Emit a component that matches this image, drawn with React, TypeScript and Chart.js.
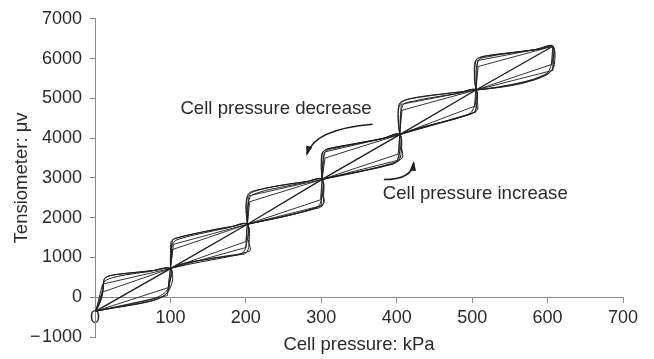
import { useEffect, useRef } from "react";
import { Chart, registerables } from "chart.js";

Chart.register(...registerables);

type Pt = [number, number];

const INK = "#1e1e1e";
const AXIS = "#8a8a8a";
const TEXT = "#2a2a2a";
const FONT = "'Liberation Sans', Arial, Helvetica, sans-serif";

// Axis ranges and ticks
const xTicks = [0, 100, 200, 300, 400, 500, 600, 700];
const yTicks = [-1000, 0, 1000, 2000, 3000, 4000, 5000, 6000, 7000];

// Nodes reached at each pressure stage (kPa, μv)
const stageNodes: Pt[] = [
  [1, -350], [100, 720], [202, 1835], [301, 2962], [404, 4090], [505, 5210], [607, 6310],
];

// Stage 0 → 100 kPa
const loop1A: Pt[] = [[1, -350], [20, -285], [40, -225], [60, -160], [78, -80], [90, 20], [97, 150], [99, 400], [100, 720], [80, 675], [60, 635], [38, 592], [20, 545], [13, 480], [11, 330], [10, 80], [7, -120], [1, -350]];
const loop1B: Pt[] = [[1, -350], [25, -265], [50, -185], [72, -100], [88, 0], [96, 120], [101, 300], [103, 500], [100, 720], [76, 668], [52, 622], [30, 575], [17, 520], [12, 440], [11, 200], [6, -160], [1, -350]];
const loop1C: Pt[] = [[1, -350], [30, -240], [58, -130], [80, -20], [93, 120], [98, 280], [100, 720], [70, 640], [40, 560], [20, 470], [12, 380], [9, 100], [1, -350]];
const loop1Q1: Pt[] = [[1, -350], [97, 240], [100, 720], [10, 330], [1, -350]];
const loop1Q2: Pt[] = [[1, -350], [96, 40], [100, 720], [10, 130], [1, -350]];

// Stage 100 → 200 kPa
const loop2A: Pt[] = [[100, 725], [115, 840], [135, 912], [155, 980], [175, 1040], [192, 1090], [201, 1135], [206, 1190], [203, 1450], [202, 1835], [185, 1788], [165, 1725], [140, 1630], [118, 1535], [106, 1470], [101, 1400], [100, 1100], [100, 725]];
const loop2B: Pt[] = [[100, 725], [120, 855], [145, 940], [170, 1015], [190, 1065], [200, 1110], [204, 1300], [202, 1835], [180, 1772], [152, 1675], [126, 1575], [110, 1500], [103, 1440], [101, 1000], [100, 725]];
const loop2C: Pt[] = [[100, 725], [125, 830], [155, 940], [180, 1030], [196, 1120], [201, 1350], [202, 1835], [175, 1740], [145, 1620], [118, 1500], [104, 1380], [101, 1050], [100, 725]];
const loop2Q1: Pt[] = [[100, 725], [200, 1250], [202, 1835], [104, 1330], [100, 725]];
const loop2Q2: Pt[] = [[100, 725], [200, 1400], [202, 1835], [103, 1200], [100, 725]];

// Stage 200 → 300 kPa
const loop3A: Pt[] = [[202, 1835], [221, 1912], [240, 1985], [258, 2060], [275, 2150], [290, 2235], [300, 2310], [304, 2400], [302, 2600], [301, 2962], [283, 2915], [265, 2868], [245, 2810], [228, 2745], [212, 2665], [204, 2585], [201, 2480], [200, 2200], [202, 1835]];
const loop3B: Pt[] = [[202, 1835], [225, 1925], [250, 2025], [272, 2125], [290, 2215], [301, 2290], [303, 2500], [301, 2962], [280, 2905], [258, 2845], [235, 2775], [216, 2700], [205, 2630], [202, 2530], [201, 2100], [202, 1835]];
const loop3C: Pt[] = [[202, 1835], [230, 1950], [260, 2080], [285, 2200], [298, 2330], [301, 2962], [275, 2870], [245, 2760], [220, 2650], [205, 2500], [202, 1835]];
const loop3Q1: Pt[] = [[202, 1835], [299, 2450], [301, 2962], [205, 2400], [202, 1835]];
const loop3Q2: Pt[] = [[202, 1835], [300, 2300], [301, 2962], [204, 2550], [202, 1835]];

// Stage 300 → 400 kPa
const loop4A: Pt[] = [[301, 2962], [318, 3040], [335, 3100], [355, 3180], [375, 3270], [392, 3360], [404, 3450], [408, 3550], [406, 3800], [404, 4090], [388, 4015], [371, 3950], [352, 3885], [334, 3820], [318, 3765], [306, 3705], [301, 3620], [300, 3300], [301, 2962]];
const loop4B: Pt[] = [[301, 2962], [325, 3065], [350, 3160], [372, 3250], [390, 3330], [402, 3420], [406, 3650], [404, 4090], [382, 3995], [358, 3910], [335, 3830], [315, 3760], [304, 3690], [301, 3550], [300, 3200], [301, 2962]];
const loop4C: Pt[] = [[301, 2962], [330, 3070], [360, 3190], [385, 3300], [400, 3420], [404, 4090], [378, 3970], [348, 3860], [322, 3760], [305, 3640], [301, 2962]];
const loop4Q1: Pt[] = [[301, 2962], [402, 3600], [404, 4090], [305, 3500], [301, 2962]];
const loop4Q2: Pt[] = [[301, 2962], [403, 3450], [404, 4090], [304, 3650], [301, 2962]];

// Stage 400 → 500 kPa
const loop5A: Pt[] = [[404, 4090], [420, 4200], [435, 4285], [452, 4365], [470, 4450], [487, 4540], [500, 4620], [507, 4720], [507, 4900], [505, 5210], [490, 5175], [476, 5148], [458, 5105], [440, 5065], [422, 5010], [409, 4945], [403, 4850], [402, 4500], [404, 4090]];
const loop5B: Pt[] = [[404, 4090], [425, 4225], [450, 4350], [472, 4460], [490, 4560], [503, 4660], [506, 4850], [505, 5210], [485, 5160], [462, 5110], [440, 5055], [420, 4995], [408, 4920], [403, 4780], [402, 4400], [404, 4090]];
const loop5C: Pt[] = [[404, 4090], [430, 4230], [460, 4390], [485, 4530], [500, 4680], [505, 5210], [480, 5120], [450, 5030], [425, 4940], [408, 4820], [404, 4090]];
const loop5Q1: Pt[] = [[404, 4090], [503, 4800], [505, 5210], [407, 4700], [404, 4090]];
const loop5Q2: Pt[] = [[404, 4090], [504, 4650], [505, 5210], [406, 4850], [404, 4090]];

// Stage 500 → 600 kPa
const loop6A: Pt[] = [[505, 5210], [520, 5240], [535, 5280], [552, 5335], [570, 5410], [586, 5500], [598, 5600], [606, 5720], [608, 5900], [607, 6310], [592, 6250], [576, 6205], [558, 6160], [540, 6120], [522, 6075], [510, 6020], [504, 5930], [503, 5600], [505, 5210]];
const loop6B: Pt[] = [[505, 5210], [528, 5255], [552, 5320], [575, 5420], [592, 5530], [603, 5650], [609, 5850], [607, 6310], [588, 6235], [565, 6180], [542, 6130], [522, 6080], [510, 6030], [505, 5950], [503, 5500], [505, 5210]];
const loop6C: Pt[] = [[505, 5210], [535, 5290], [565, 5400], [588, 5530], [602, 5700], [607, 6310], [582, 6220], [552, 6140], [525, 6060], [508, 5940], [505, 5210]];
const loop6Q1: Pt[] = [[505, 5210], [605, 5850], [607, 6310], [508, 5800], [505, 5210]];
const loop6Q2: Pt[] = [[505, 5210], [606, 5700], [607, 6310], [507, 5950], [505, 5210]];

const smoothLoops: Pt[][] = [
  loop1A, loop1B, loop1C, loop2A, loop2B, loop2C, loop3A, loop3B, loop3C,
  loop4A, loop4B, loop4C, loop5A, loop5B, loop5C, loop6A, loop6B, loop6C,
];
const straightLoops: Pt[][] = [
  loop1Q1, loop1Q2, loop2Q1, loop2Q2, loop3Q1, loop3Q2,
  loop4Q1, loop4Q2, loop5Q1, loop5Q2, loop6Q1, loop6Q2,
];

// Annotation labels and arrow paths (start, control, end) in data units
const decreaseLabel = { text: "Cell pressure decrease", x: 240, y: 4726 };
const decreaseArrow: Pt[] = [[368, 4350], [291, 4229], [281, 3600]];
const increaseLabel = { text: "Cell pressure increase", x: 381.5, y: 2587 };
const increaseArrow: Pt[] = [[383, 2960], [420, 2960], [422.5, 3380]];

const xTitle = "Cell pressure: kPa";
const yTitle = "Tensiometer: μv";

const toXY = (pts: Pt[]) => pts.map(([x, y]) => ({ x, y }));

const curve = (pts: Pt[], tension: number, width: number) => ({
  data: toXY(pts),
  showLine: true,
  borderColor: INK,
  borderWidth: width,
  pointRadius: 0,
  pointHoverRadius: 0,
  tension,
  fill: false,
});

const annotationPlugin = {
  id: "annotations",
  afterDatasetsDraw(chart: any) {
    const { ctx, chartArea, scales } = chart;
    const px = (p: Pt) => [scales.x.getPixelForValue(p[0]), scales.y.getPixelForValue(p[1])];
    ctx.save();
    ctx.fillStyle = TEXT;
    ctx.font = `18.6px ${FONT}`;
    ctx.textBaseline = "middle";

    const dp = px([decreaseLabel.x, decreaseLabel.y]);
    ctx.textAlign = "center";
    ctx.fillText(decreaseLabel.text, dp[0], dp[1]);
    const ip = px([increaseLabel.x, increaseLabel.y]);
    ctx.textAlign = "left";
    ctx.fillText(increaseLabel.text, ip[0], ip[1]);

    ctx.font = `18.5px ${FONT}`;
    ctx.textAlign = "center";
    ctx.fillText(xTitle, (chartArea.left + chartArea.right) / 2, chartArea.bottom + 8);

    const drawArrow = (path: Pt[]) => {
      const [s, c, e] = path.map(px);
      ctx.strokeStyle = INK;
      ctx.lineWidth = 1.6;
      ctx.beginPath();
      ctx.moveTo(s[0], s[1]);
      ctx.quadraticCurveTo(c[0], c[1], e[0], e[1]);
      ctx.stroke();
      const ang = Math.atan2(e[1] - c[1], e[0] - c[0]);
      const len = 8;
      const half = 3.2;
      ctx.beginPath();
      ctx.moveTo(e[0] + Math.cos(ang) * 2, e[1] + Math.sin(ang) * 2);
      ctx.lineTo(e[0] - Math.cos(ang) * len + Math.sin(ang) * half, e[1] - Math.sin(ang) * len - Math.cos(ang) * half);
      ctx.lineTo(e[0] - Math.cos(ang) * len - Math.sin(ang) * half, e[1] - Math.sin(ang) * len + Math.cos(ang) * half);
      ctx.closePath();
      ctx.fillStyle = INK;
      ctx.fill();
    };
    drawArrow(decreaseArrow);
    drawArrow(increaseArrow);
    ctx.restore();
  },
};

export default function App() {
  const ref = useRef<HTMLCanvasElement | null>(null);

  useEffect(() => {
    if (!ref.current) return;
    const datasets: any[] = [
      ...smoothLoops.map((p) => curve(p, 0.35, 1)),
      ...straightLoops.map((p) => curve(p, 0, 0.9)),
      curve(stageNodes, 0, 1.4),
    ];
    const chart = new Chart(ref.current, {
      type: "scatter",
      data: { datasets },
      options: {
        animation: false,
        responsive: false,
        layout: { padding: { top: 15, bottom: 22, right: 31, left: 0 } },
        plugins: { legend: { display: false }, tooltip: { enabled: false } },
        events: [],
        scales: {
          x: {
            type: "linear",
            min: xTicks[0],
            max: xTicks[xTicks.length - 1],
            position: { y: 0 } as any,
            afterBuildTicks: (s: any) => { s.ticks = xTicks.map((v) => ({ value: v })); },
            ticks: {
              color: TEXT,
              font: { size: 18, family: FONT },
              padding: 5,
              maxRotation: 0,
              autoSkip: false,
            },
            grid: { drawOnChartArea: false, drawTicks: true, tickLength: 5, color: AXIS },
            border: { display: true, color: AXIS, width: 1 },
          },
          y: {
            type: "linear",
            min: yTicks[0],
            max: yTicks[yTicks.length - 1],
            afterBuildTicks: (s: any) => { s.ticks = yTicks.map((v) => ({ value: v })); },
            afterFit: (s: any) => { s.width = 95; },
            ticks: {
              color: TEXT,
              font: { size: 18, family: FONT },
              padding: 8,
              autoSkip: false,
              callback: (v: any) => (Number(v) < 0 ? `\u2212\u200A${Math.abs(Number(v))}` : `${v}`),
            },
            title: {
              display: true,
              text: yTitle,
              color: TEXT,
              font: { size: 18.5, family: FONT },
              padding: { top: 11, bottom: 0 },
            },
            grid: { drawOnChartArea: false, drawTicks: true, tickLength: 5, color: AXIS },
            border: { display: true, color: AXIS, width: 1 },
          },
        },
      },
      plugins: [annotationPlugin],
    });
    return () => chart.destroy();
  }, []);

  return (
    <div style={{ position: "fixed", left: 0, top: 0, width: 654, height: 359, background: "#fff" }}>
      <canvas ref={ref} width={654} height={359} />
    </div>
  );
}
